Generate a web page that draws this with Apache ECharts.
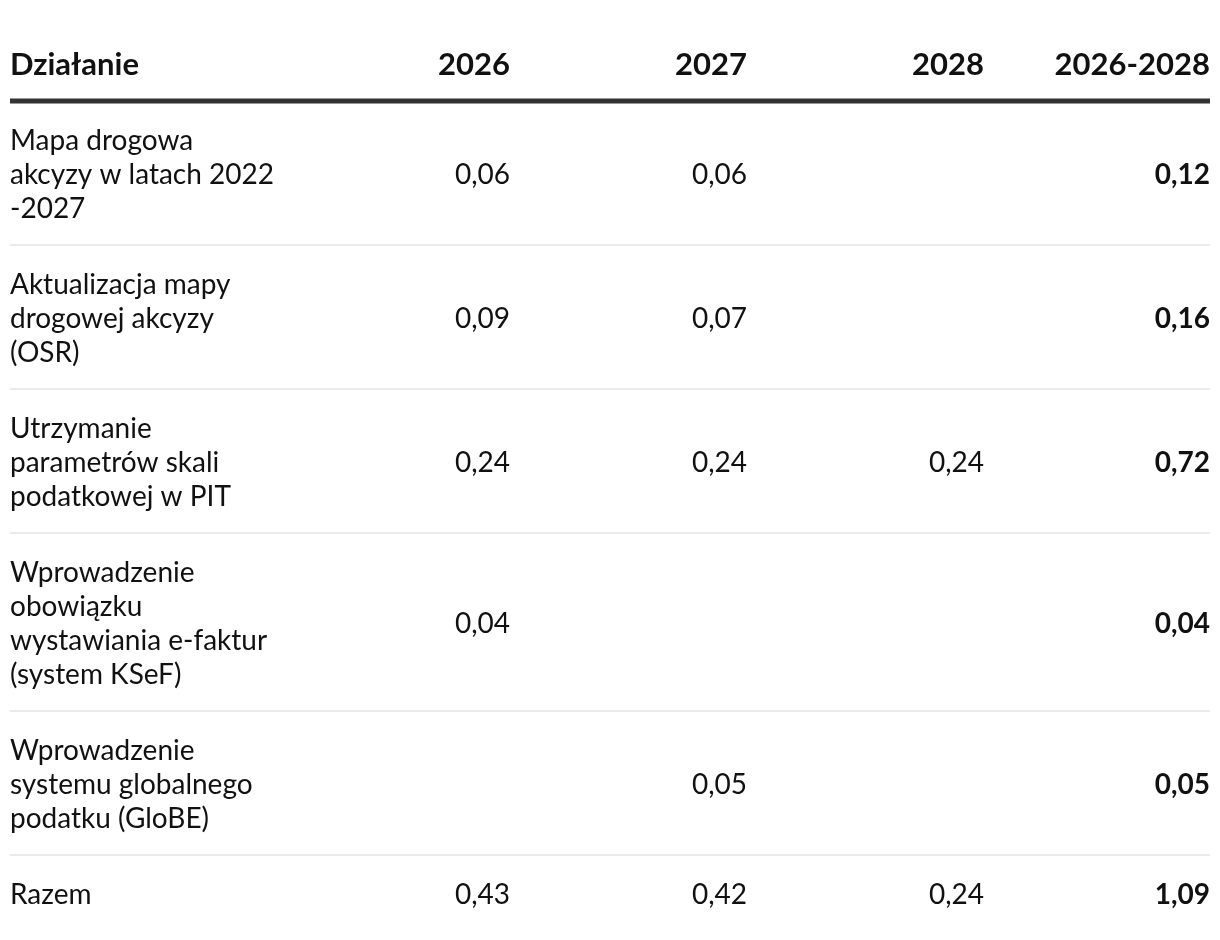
<!DOCTYPE html>
<html>
<head>
<meta charset="utf-8">
<script src="https://cdn.jsdelivr.net/npm/echarts@6/dist/echarts.min.js"></script>
<style>
html,body{margin:0;padding:0;background:#fff;}
#chart{width:1220px;height:940px;}
</style>
</head>
<body>
<div id="chart"></div>
<script>
// ---- data ----
const headers = ['Działanie', '2026', '2027', '2028', '2026-2028'];
const actions = [
  'Mapa drogowa\nakcyzy w latach 2022\n-2027',
  'Aktualizacja mapy\ndrogowej akcyzy\n(OSR)',
  'Utrzymanie\nparametrów skali\npodatkowej w PIT',
  'Wprowadzenie\nobowiązku\nwystawiania e-faktur\n(system KSeF)',
  'Wprowadzenie\nsystemu globalnego\npodatku (GloBE)',
  'Razem'
];
const v2026 = [0.06, 0.09, 0.24, 0.04, null, 0.43];
const v2027 = [0.06, 0.07, 0.24, null, 0.05, 0.42];
const v2028 = [null, null, 0.24, null, null, 0.24];
const vTotal = [0.12, 0.16, 0.72, 0.04, 0.05, 1.09];

// ---- layout (axis units) ----
const X_MAX = 1200, Y_MAX = 940;
const colAnchor = [0, 500, 737, 974, 1200];
const colAlign = ['left', 'right', 'right', 'right', 'right'];
const LINE_H = 34, ROW_PAD = 42, FIRST_OFF = 40;
const HEADER_LINE_Y = 101, HEADER_TEXT_Y = 65;
const FONT = 'Lato, "Noto Sans", sans-serif';
const FS = 28, FS_HEAD = 31;

const fmt = v => (v == null ? '' : v.toFixed(2).replace('.', ','));
const valueCols = [v2026, v2027, v2028, vTotal];

// row boundaries computed from line counts
const rowTops = [];
let y = HEADER_LINE_Y;
actions.forEach(a => {
  rowTops.push(y);
  const n = a.split('\n').length;
  y += n * LINE_H + ROW_PAD;
});
const rowLines = actions.map(a => a.split('\n').length);

// cell data: [col, row, text, bold]
const cells = [];
headers.forEach((h, c) => cells.push([c, -1, h, 1]));
actions.forEach((a, r) => {
  cells.push([0, r, a, 0]);
  valueCols.forEach((arr, i) => {
    const t = fmt(arr[r]);
    if (t) cells.push([i + 1, r, t, i === 3 ? 1 : 0]);
  });
});
const separators = actions.slice(0, -1).map((_, r) => [r]);

const chart = echarts.init(document.getElementById('chart'), null, {renderer: 'canvas'});
chart.setOption({
  animation: false,
  backgroundColor: '#ffffff',
  grid: {left: 10, right: 10, top: 0, bottom: 0},
  xAxis: {type: 'value', min: 0, max: X_MAX, show: false},
  yAxis: {type: 'value', min: 0, max: Y_MAX, inverse: true, show: false},
  series: [
    {
      type: 'custom',
      silent: true,
      data: [[0]],
      renderItem: (params, api) => {
        const p1 = api.coord([0, HEADER_LINE_Y]);
        const p2 = api.coord([X_MAX, HEADER_LINE_Y]);
        return {type: 'line', shape: {x1: p1[0], y1: p1[1], x2: p2[0], y2: p2[1]},
          style: {stroke: '#333333', lineWidth: 5}};
      }
    },
    {
      type: 'custom',
      silent: true,
      data: separators,
      renderItem: (params, api) => {
        const r = api.value(0);
        const yy = rowTops[r + 1];
        const p1 = api.coord([0, yy]);
        const p2 = api.coord([X_MAX, yy]);
        return {type: 'line', shape: {x1: p1[0], y1: p1[1], x2: p2[0], y2: p2[1]},
          style: {stroke: '#ebebeb', lineWidth: 2}};
      }
    },
    {
      type: 'custom',
      silent: true,
      data: cells,
      renderItem: (params, api) => {
        const d = cells[params.dataIndex];
        const c = d[0], r = d[1];
        const head = r < 0;
        const yy = head ? HEADER_TEXT_Y
          : rowTops[r] + FIRST_OFF - LINE_H / 2 + rowLines[r] * LINE_H / 2;
        const p = api.coord([colAnchor[c], yy]);
        return {
          type: 'text',
          x: p[0], y: p[1],
          style: {
            text: d[2],
            fill: '#111111',
            fontFamily: FONT,
            fontSize: head ? FS_HEAD : FS,
            fontWeight: d[3] ? 'bold' : 'normal',
            align: colAlign[c],
            verticalAlign: 'middle',
            lineHeight: LINE_H
          }
        };
      }
    }
  ]
});
</script>
</body>
</html>
